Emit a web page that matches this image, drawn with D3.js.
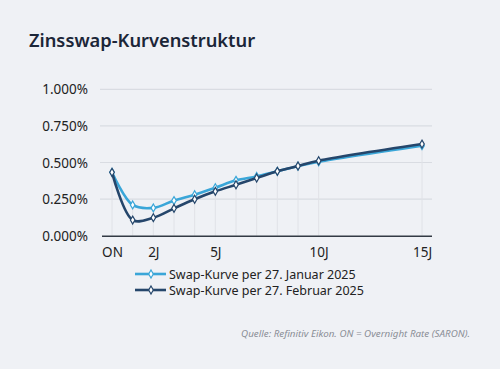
<!DOCTYPE html>
<html>
<head>
<meta charset="utf-8">
<script src="https://cdn.jsdelivr.net/npm/d3@7"></script>
<style>
  html, body { margin: 0; padding: 0; background: #eff1f5; }
  svg { display: block; font-family: "Noto Sans", "Open Sans", sans-serif; }
</style>
</head>
<body>
<svg id="chart" width="500" height="369"></svg>
<script>
// Laufzeiten in Jahren (ON = 0)
var maturities = [0, 1, 2, 3, 4, 5, 6, 7, 8, 9, 10, 15];
var tickValues = [0, 2, 5, 10, 15];
var tickLabels = ["ON", "2J", "5J", "10J", "15J"];
var yTicks = [0, 0.25, 0.5, 0.75, 1.0];

var janValues = [0.433, 0.21, 0.19, 0.24, 0.28, 0.328, 0.378, 0.405, 0.44, 0.475, 0.505, 0.615];
var febValues = [0.433, 0.107, 0.123, 0.187, 0.249, 0.303, 0.348, 0.394, 0.44, 0.476, 0.512, 0.626];

var seriesNames = ["Swap-Kurve per 27. Januar 2025", "Swap-Kurve per 27. Februar 2025"];
var seriesColors = ["#3aa6d8", "#25466b"];

var svg = d3.select("#chart");

svg.append("text")
  .attr("x", 29).attr("y", 47)
  .attr("font-size", 18.3).attr("font-weight", 600)
  .attr("fill", "#1b2638")
  .text("Zinsswap-Kurvenstruktur");

var x = d3.scaleLinear().domain([0, 15]).range([112, 422]);
var y = d3.scaleLinear().domain([0, 1]).range([235.7, 89.3]);

// horizontale Gitterlinien
svg.append("g").selectAll("line")
  .data(yTicks.filter(function(d) { return d > 0; }))
  .join("line")
  .attr("x1", 100).attr("x2", 432)
  .attr("y1", function(d) { return y(d); })
  .attr("y2", function(d) { return y(d); })
  .attr("stroke", "#d9dce2").attr("stroke-width", 1.2);

// vertikale Gitterlinien an jedem Punkt
svg.append("g").selectAll("line")
  .data(maturities)
  .join("line")
  .attr("x1", function(d) { return x(d); })
  .attr("x2", function(d) { return x(d); })
  .attr("y1", function(d, i) { return y(Math.max(janValues[i], febValues[i])); })
  .attr("y2", y(0))
  .attr("stroke", "#e0e2e7").attr("stroke-width", 1);

// y-Achse Beschriftung
svg.append("g").selectAll("text")
  .data(yTicks)
  .join("text")
  .attr("x", 88)
  .attr("y", function(d) { return y(d) + 5; })
  .attr("text-anchor", "end")
  .attr("font-size", 13.5)
  .attr("fill", "#222")
  .text(function(d) { return d3.format(".3f")(d) + "%"; });

// x-Achse
var xAxis = d3.axisBottom(x)
  .tickValues(tickValues)
  .tickSize(0)
  .tickPadding(12)
  .tickFormat(function(d, i) { return tickLabels[i]; });

var gx = svg.append("g")
  .attr("transform", "translate(0," + y(0) + ")")
  .call(xAxis);
gx.select(".domain").remove();
gx.selectAll("text")
  .attr("font-size", 13.5)
  .attr("fill", "#222")
  .attr("font-family", "Noto Sans, sans-serif");

svg.append("line")
  .attr("x1", 102).attr("x2", 432)
  .attr("y1", y(0) + 0.5).attr("y2", y(0) + 0.5)
  .attr("stroke", "#333a44").attr("stroke-width", 1.5);

var line = d3.line()
  .x(function(d) { return x(d[0]); })
  .y(function(d) { return y(d[1]); })
  .curve(d3.curveCatmullRom.alpha(0.5));

var diamond = d3.symbol().type(d3.symbolDiamond).size(18);

[janValues, febValues].forEach(function(vals, s) {
  var pts = maturities.map(function(m, i) { return [m, vals[i]]; });
  svg.append("path")
    .datum(pts)
    .attr("d", line)
    .attr("fill", "none")
    .attr("stroke", seriesColors[s])
    .attr("stroke-width", 2.6);
  svg.append("g").selectAll("path")
    .data(pts)
    .join("path")
    .attr("transform", function(d) { return "translate(" + x(d[0]) + "," + y(d[1]) + ")"; })
    .attr("d", diamond)
    .attr("fill", "#fff")
    .attr("stroke", seriesColors[s])
    .attr("stroke-width", 1.2);
});

// Legende
var legend = svg.append("g").selectAll("g")
  .data(seriesNames)
  .join("g")
  .attr("transform", function(d, i) { return "translate(135," + (274 + i * 16) + ")"; });
legend.append("line")
  .attr("x1", 0).attr("x2", 31)
  .attr("stroke", function(d, i) { return seriesColors[i]; })
  .attr("stroke-width", 2.6);
legend.append("path")
  .attr("transform", "translate(16,0)")
  .attr("d", diamond)
  .attr("fill", "#fff")
  .attr("stroke", function(d, i) { return seriesColors[i]; })
  .attr("stroke-width", 1.2);
legend.append("text")
  .attr("x", 34).attr("y", 4.5)
  .attr("font-size", 12.5)
  .attr("fill", "#222")
  .text(function(d) { return d; });

svg.append("text")
  .attr("x", 470).attr("y", 337)
  .attr("text-anchor", "end")
  .attr("font-size", 9.8)
  .attr("font-style", "italic")
  .attr("fill", "#8a8e96")
  .text("Quelle: Refinitiv Eikon. ON = Overnight Rate (SARON).");
</script>
</body>
</html>
